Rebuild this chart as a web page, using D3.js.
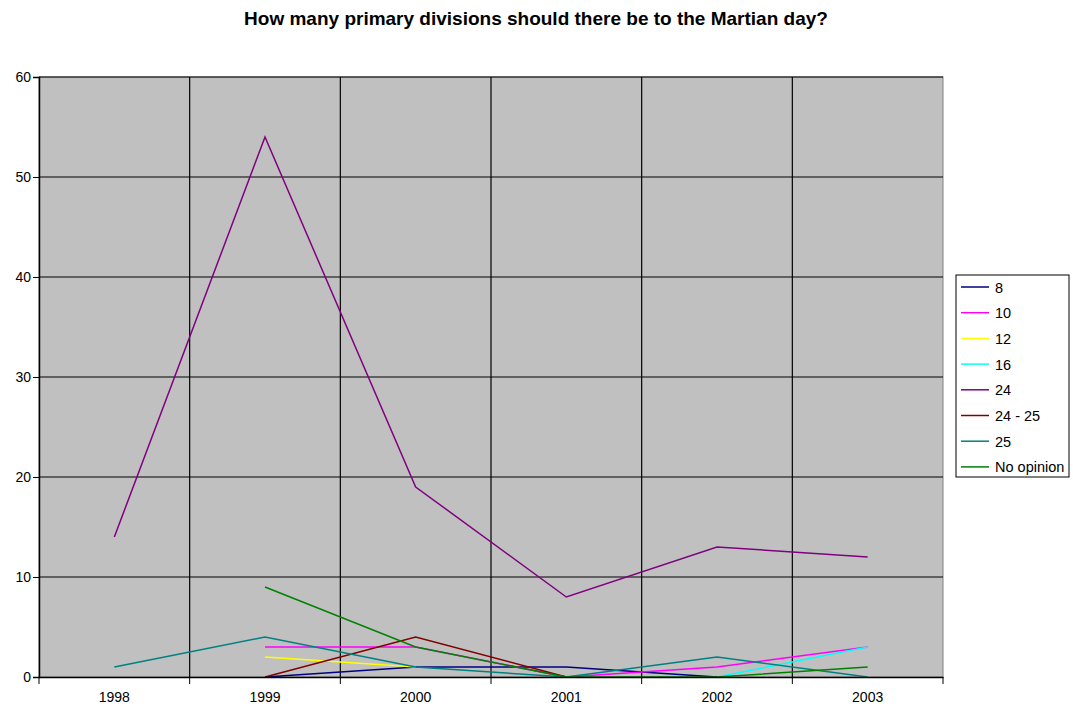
<!DOCTYPE html>
<html><head><meta charset="utf-8">
<script src="https://cdn.jsdelivr.net/npm/d3@7"></script>
<style>body{margin:0;background:#fff;} svg{display:block;font-family:"Liberation Sans",Arial,sans-serif;}</style>
</head><body>
<svg id="c" width="1073" height="708"></svg>
<script>
const years = ["1998","1999","2000","2001","2002","2003"];
const seriesNames = ["8","10","12","16","24","24 - 25","25","No opinion"];
const seriesColors = ["#000080","#FF00FF","#FFFF00","#00FFFF","#800080","#800000","#008080","#008000"];
const s8 = [null,0,1,1,0,null];
const s10 = [null,3,3,0,1,3];
const s12 = [null,2,1,null,null,null];
const s16 = [null,null,null,null,0,3];
const s24 = [14,54,19,8,13,12];
const s2425 = [null,0,4,0,null,null];
const s25 = [1,4,1,0,2,0];
const sNo = [null,9,3,0,0,1];
const yTicks = [0,10,20,30,40,50,60];
const title = "How many primary divisions should there be to the Martian day?";

const allValues = [s8,s10,s12,s16,s24,s2425,s25,sNo];
const svg = d3.select("#c");
const L=39,R=943,T=77,B=677;
const x = d3.scaleBand().domain(years).range([L,R]);
const y = d3.scaleLinear().domain([0,60]).range([B,T]);

svg.append("text").attr("x",536).attr("y",25).attr("text-anchor","middle")
  .attr("font-weight","bold").attr("font-size","19px").text(title);

svg.append("rect").attr("x",L).attr("y",T).attr("width",R-L).attr("height",B-T)
  .attr("fill","#C0C0C0").attr("stroke","#808080").attr("stroke-width",1);

const g = svg.append("g");
g.selectAll(".hg").data(yTicks.filter(d=>d>0)).join("line")
  .attr("x1",L).attr("x2",R).attr("y1",d=>y(d)).attr("y2",d=>y(d))
  .attr("stroke","#000").attr("stroke-width",1.2);
const bounds = years.slice(1).map(d=>x(d));
g.selectAll(".vg").data(bounds).join("line")
  .attr("x1",d=>d).attr("x2",d=>d).attr("y1",T).attr("y2",B)
  .attr("stroke","#000").attr("stroke-width",1.2);

const line = d3.line().defined(d=>d.v!==null).x(d=>x(d.k)+x.bandwidth()/2).y(d=>y(d.v));
allValues.forEach((vals,i)=>{
  svg.append("path").datum(vals.map((v,j)=>({k:years[j],v})))
    .attr("d",line).attr("fill","none").attr("stroke",seriesColors[i]).attr("stroke-width",1.5);
});

const ya = svg.append("g").attr("transform",`translate(${L},0)`)
  .call(d3.axisLeft(y).tickValues(yTicks).tickSize(6).tickPadding(2));
ya.select(".domain").attr("stroke","#000").attr("stroke-width",1.5);
ya.selectAll("text").attr("font-size","14px").attr("fill","#000").attr("font-family","Liberation Sans, Arial");
const xa = svg.append("g").attr("transform",`translate(0,${B})`)
  .call(d3.axisBottom(x).tickSize(0).tickPadding(15));
xa.select(".domain").attr("stroke","#000").attr("stroke-width",1.5);
xa.selectAll("text").attr("font-size","14px").attr("fill","#000").attr("font-family","Liberation Sans, Arial");
xa.selectAll(".bt").data([L,...bounds,R]).join("line")
  .attr("x1",d=>d).attr("x2",d=>d).attr("y1",0).attr("y2",7).attr("stroke","#000");

const lg = svg.append("g").attr("transform","translate(956,275)");
lg.append("rect").attr("width",113).attr("height",202).attr("fill","#fff").attr("stroke","#000");
seriesNames.forEach((n,i)=>{
  const yy = 12 + i*25.7;
  lg.append("line").attr("x1",5).attr("x2",33).attr("y1",yy).attr("y2",yy)
    .attr("stroke",seriesColors[i]).attr("stroke-width",1.5);
  lg.append("text").attr("x",39).attr("y",yy+5.5).attr("font-size","14.5px").text(n);
});
</script>
</body></html>
